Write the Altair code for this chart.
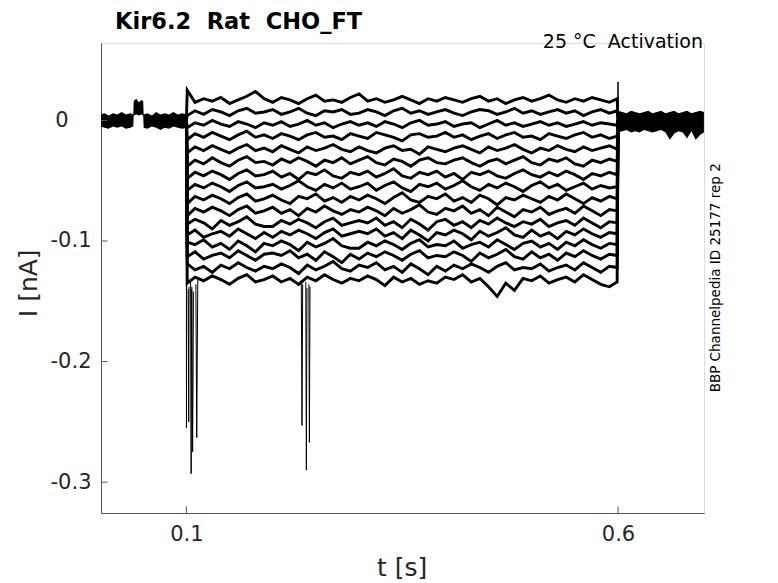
import altair as alt
import pandas as pd

FONT = "DejaVu Sans"

# ---- data (currents in pA, times in s) ----
STEP_T = [0.101, 0.11, 0.12, 0.13, 0.14, 0.15, 0.16, 0.17, 0.18, 0.19,
          0.20, 0.21, 0.22, 0.23, 0.24, 0.25, 0.26, 0.27, 0.28, 0.29,
          0.30, 0.31, 0.32, 0.33, 0.34, 0.35, 0.36, 0.37, 0.38, 0.39,
          0.40, 0.41, 0.42, 0.43, 0.44, 0.45, 0.46, 0.47, 0.48, 0.49,
          0.50, 0.51, 0.52, 0.53, 0.54, 0.55, 0.56, 0.57, 0.58, 0.59,
          0.599]

TRACE_01 = [25, 15, 18, 16, 19, 14, 17, 20, 24, 18,
            15, 19, 17, 14, 18, 21, 16, 17, 15, 19,
            22, 16, 18, 15, 17, 20, 17, 14, 18, 16,
            19, 17, 15, 18, 20, 16, 18, 14, 17, 19,
            16, 18, 21, 17, 15, 18, 16, 19, 17, 15,
            18]
TRACE_02 = [4, 8, 5, 9, 7, 4, 8, 10, 6, 7,
            9, 5, 7, 10, 6, 4, 8, 7, 9, 5,
            6, 9, 7, 4, 8, 10, 6, 8, 5, 7,
            9, 6, 4, 7, 9, 8, 5, 7, 10, 6,
            8, 5, 7, 9, 6, 8, 4, 7, 9, 6,
            8]
TRACE_03 = [-6, -2, -4, 0, -3, -5, -1, -3, -6, -2,
            -4, -1, -5, -3, 0, -4, -2, -6, -3, -1,
            -4, -2, -5, -1, -3, -6, -2, 0, -4, -3,
            -1, -5, -3, -2, -6, -3, 0, -4, -2, -5,
            -3, -1, -4, -2, -5, -3, -1, -4, -2, -3,
            -4]
TRACE_04 = [-16, -11, -14, -10, -13, -16, -12, -9, -14, -12,
            -15, -11, -13, -16, -12, -10, -14, -13, -16, -11,
            -13, -15, -10, -12, -14, -17, -12, -11, -14, -13,
            -10, -14, -12, -16, -13, -11, -15, -12, -10, -14,
            -13, -16, -11, -13, -15, -12, -10, -14, -12, -15,
            -13]
TRACE_05 = [-27, -22, -25, -21, -24, -27, -23, -20, -25, -23,
            -26, -21, -24, -27, -22, -25, -23, -20, -24, -26,
            -22, -25, -27, -23, -21, -25, -24, -28, -22, -24,
            -26, -23, -21, -24, -27, -22, -25, -23, -20, -24,
            -27, -23, -25, -21, -24, -26, -22, -25, -23, -21,
            -24]
TRACE_06 = [-38, -33, -36, -31, -35, -38, -33, -30, -35, -34,
            -37, -32, -35, -31, -34, -38, -33, -35, -31, -36,
            -33, -30, -35, -37, -32, -34, -38, -33, -31, -35,
            -36, -33, -31, -35, -38, -34, -32, -36, -33, -30,
            -35, -37, -32, -34, -31, -36, -38, -33, -35, -32,
            -34]
TRACE_07 = [-48, -43, -46, -42, -45, -49, -44, -41, -46, -45,
            -42, -47, -44, -49, -43, -45, -41, -46, -48, -43,
            -45, -42, -47, -44, -40, -46, -48, -43, -45, -42,
            -47, -44, -49, -43, -45, -42, -46, -48, -44, -41,
            -45, -47, -43, -46, -42, -45, -49, -44, -46, -43,
            -45]
TRACE_08 = [-58, -53, -56, -52, -55, -59, -54, -51, -56, -55,
            -53, -57, -54, -50, -55, -58, -53, -56, -52, -57,
            -55, -52, -58, -54, -51, -56, -59, -53, -55, -52,
            -57, -54, -50, -55, -58, -53, -56, -52, -55, -59,
            -54, -51, -56, -53, -58, -55, -52, -57, -54, -56,
            -55]
TRACE_09 = [-69, -63, -66, -62, -65, -69, -64, -61, -67, -65,
            -62, -66, -69, -63, -65, -61, -67, -64, -68, -63,
            -66, -62, -65, -69, -64, -60, -66, -68, -63, -65,
            -61, -67, -64, -68, -62, -65, -70, -64, -66, -62,
            -65, -68, -63, -66, -61, -65, -69, -64, -67, -63,
            -65]
TRACE_10 = [-79, -73, -76, -72, -75, -79, -74, -71, -77, -75,
            -72, -77, -74, -79, -73, -76, -71, -75, -78, -74,
            -76, -72, -75, -79, -73, -77, -74, -70, -76, -78,
            -73, -75, -71, -77, -74, -79, -72, -76, -80, -74,
            -76, -72, -78, -75, -73, -77, -71, -75, -79, -74,
            -75]
TRACE_11 = [-86, -82, -85, -90, -83, -87, -84, -80, -86, -88,
            -88, -83, -86, -82, -85, -89, -84, -81, -87, -85,
            -83, -85, -81, -87, -84, -89, -82, -86, -91, -84,
            -82, -87, -84, -89, -83, -86, -81, -85, -88, -84,
            -86, -82, -88, -85, -83, -87, -81, -85, -89, -84,
            -85]
TRACE_12 = [-95, -91, -97, -94, -92, -96, -90, -94, -98, -93,
            -97, -92, -95, -91, -94, -98, -93, -90, -96, -94,
            -92, -94, -90, -96, -93, -98, -91, -95, -100, -93,
            -95, -91, -94, -99, -92, -96, -93, -89, -95, -97,
            -91, -96, -93, -98, -92, -95, -90, -94, -97, -93,
            -94]
TRACE_13 = [-101, -103, -99, -105, -102, -107, -100, -104, -109, -102,
            -104, -100, -103, -108, -101, -105, -102, -98, -104, -106,
            -106, -101, -104, -100, -103, -107, -102, -99, -105, -103,
            -104, -100, -106, -103, -101, -105, -99, -103, -107, -102,
            -100, -105, -102, -107, -101, -104, -99, -103, -106, -102,
            -103]
TRACE_14 = [-113, -109, -115, -112, -110, -114, -108, -112, -116, -111,
            -110, -112, -108, -114, -111, -116, -109, -113, -118, -111,
            -115, -110, -113, -109, -112, -116, -111, -108, -114, -112,
            -113, -109, -112, -117, -110, -114, -111, -107, -113, -115,
            -109, -114, -111, -116, -110, -113, -108, -112, -115, -111,
            -112]
TRACE_15 = [-119, -124, -121, -126, -120, -123, -118, -122, -125, -121,
            -123, -119, -122, -127, -120, -124, -121, -117, -123, -125,
            -120, -122, -118, -124, -121, -126, -119, -123, -128, -121,
            -125, -120, -123, -119, -122, -126, -121, -118, -124, -122,
            -123, -119, -125, -122, -120, -124, -118, -122, -126, -121,
            -122]
TRACE_16 = [-135, -130, -133, -129, -132, -136, -131, -128, -134, -132,
            -129, -134, -131, -136, -130, -133, -128, -132, -135, -131,
            -133, -129, -132, -137, -130, -134, -131, -136, -133, -135,
            -130, -132, -128, -134, -131, -138, -146, -135, -141, -131,
            -133, -129, -135, -132, -130, -134, -128, -132, -136, -138,
            -134]

TRACES = [TRACE_01, TRACE_02, TRACE_03, TRACE_04, TRACE_05, TRACE_06,
          TRACE_07, TRACE_08, TRACE_09, TRACE_10, TRACE_11, TRACE_12,
          TRACE_13, TRACE_14, TRACE_15, TRACE_16]

# holding-current band before and after the step (upper / lower edge, pA)
PRE_T = [0.0012, 0.005, 0.010, 0.015, 0.020, 0.025, 0.030, 0.035, 0.0385,
         0.0390, 0.042, 0.045, 0.048, 0.0500, 0.0505, 0.055, 0.060, 0.065,
         0.070, 0.075, 0.080, 0.085, 0.090, 0.095, 0.100]
PRE_HI = [5, 6, 4, 6, 5, 7, 5, 6, 5, 16, 18, 15, 17, 16, 5, 6, 4, 7, 5,
          6, 5, 7, 5, 6, 5]
PRE_LO = [-5, -6, -7, -5, -6, -5, -7, -6, -5, 4, 5, 4, 5, 4, -6, -7, -5,
          -6, -8, -6, -7, -5, -6, -7, -6]
POST_T = [0.600, 0.605, 0.610, 0.615, 0.620, 0.625, 0.630, 0.635, 0.640,
          0.645, 0.650, 0.655, 0.660, 0.665, 0.670, 0.675, 0.680, 0.685,
          0.690, 0.695, 0.6995]
POST_HI = [8, 7, 6, 8, 7, 6, 7, 8, 6, 7, 8, 6, 7, 8, 6, 7, 8, 6, 7, 8, 7]
POST_LO = [-10, -9, -8, -10, -9, -10, -8, -9, -10, -9, -8, -10, -16, -11,
           -9, -10, -15, -9, -16, -12, -10]

# fast transients (thin spikes)
SPIKE_T = [[0.1000, 0.1001, 0.1004],
           [0.1022, 0.1027, 0.1031],
           [0.1049, 0.1055, 0.1061],
           [0.1064, 0.1072, 0.1082],
           [0.1110, 0.1120, 0.1132],
           [0.2331, 0.2339, 0.2347],
           [0.2383, 0.2390, 0.2397],
           [0.2419, 0.2425, 0.2432],
           [0.5995, 0.6000, 0.6006]]
SPIKE_PA = [[0, -255, -130],
            [-140, -250, -138],
            [-132, -293, -140],
            [-138, -275, -142],
            [-136, -263, -132],
            [-133, -253, -136],
            [-134, -290, -139],
            [-136, -267, -138],
            [8, 32, 2]]

XTICKS = [0.1, 0.6]
YTICKS = [0.0, -0.1, -0.2, -0.3]
X_DOMAIN = [0.0011, 0.6996]
Y_DOMAIN = [-0.3256, 0.0642]

TITLE = "Kir6.2\u00a0 Rat\u00a0 CHO_FT"
NOTE = "25 \u00b0C\u00a0 Activation"
SIDE = "BBP Channelpedia ID 25177 rep 2"

# ---- tables ----
rows = []
for n, vals in enumerate(TRACES):
    pts = [(0.1, 0)] + list(zip(STEP_T, vals)) + [(0.6, 0)]
    for k, (t, v) in enumerate(pts):
        rows.append({"trace": n, "k": k, "t": t, "i": v / 1000.0})
traces_df = pd.DataFrame(rows)

srows = []
for n, (ts, vs) in enumerate(zip(SPIKE_T, SPIKE_PA)):
    for k, (t, v) in enumerate(zip(ts, vs)):
        srows.append({"spike": n, "k": k, "t": t, "i": v / 1000.0})
spikes_df = pd.DataFrame(srows)

pre_df = pd.DataFrame({"t": PRE_T, "hi": [v / 1000.0 for v in PRE_HI],
                       "lo": [v / 1000.0 for v in PRE_LO]})
post_df = pd.DataFrame({"t": POST_T, "hi": [v / 1000.0 for v in POST_HI],
                        "lo": [v / 1000.0 for v in POST_LO]})

W, H = 603, 470
AXC = "#555555"
TXC = "#262626"

xscale = alt.Scale(domain=X_DOMAIN, nice=False, zero=False)
yscale = alt.Scale(domain=Y_DOMAIN, nice=False, zero=False)

ylab = "datum.value == 0 ? '0' : '-' + format(abs(datum.value), '.1f')"

xaxis = alt.Axis(values=XTICKS, format=".1f", grid=False, ticks=False,
                 domainColor=AXC, domainWidth=1, labelFont=FONT,
                 labelFontSize=21, labelColor=TXC, labelPadding=10,
                 title="t [s]", titleFont=FONT, titleFontSize=25,
                 titleFontWeight="normal", titleColor=TXC, titleX=300.7,
                 titleY=62.8, titleAlign="center", titleBaseline="alphabetic")
yaxis = alt.Axis(values=YTICKS, labelExpr=ylab, grid=False, ticks=False,
                 domainColor=AXC, domainWidth=1, labelFont=FONT,
                 labelFontSize=21, labelColor=TXC,
                 labelPadding={"condition": {"test": "datum.value == 0", "value": 33},
                               "value": 10},
                 title="I [nA]", titleFont=FONT, titleFontSize=25,
                 titleFontWeight="normal", titleColor=TXC, titleX=-64.6,
                 titleY=239.8, titleAngle=270, titleAlign="center",
                 titleBaseline="alphabetic")

base_pre = alt.Chart(pre_df).mark_area(color="black").encode(
    x=alt.X("t:Q", scale=xscale, axis=xaxis),
    y=alt.Y("hi:Q", scale=yscale, axis=yaxis),
    y2="lo:Q",
)
base_post = alt.Chart(post_df).mark_area(color="black").encode(
    x=alt.X("t:Q", scale=xscale), y=alt.Y("hi:Q", scale=yscale), y2="lo:Q"
)
lines = alt.Chart(traces_df).mark_line(color="black", strokeWidth=2.9,
                                       strokeJoin="miter").encode(
    x=alt.X("t:Q", scale=xscale),
    y=alt.Y("i:Q", scale=yscale),
    detail="trace:N",
    order="k:Q",
)
spikes = alt.Chart(spikes_df).mark_line(color="black", strokeWidth=1).encode(
    x=alt.X("t:Q", scale=xscale),
    y=alt.Y("i:Q", scale=yscale),
    detail="spike:N",
    order="k:Q",
)

xt = alt.Chart(pd.DataFrame({"v": XTICKS})).mark_rule(color=AXC, strokeWidth=1).encode(
    x=alt.X("v:Q", scale=xscale), y=alt.value(H), y2=alt.value(H - 6.5)
)
yt = alt.Chart(pd.DataFrame({"v": YTICKS})).mark_rule(color=AXC, strokeWidth=1).encode(
    y=alt.Y("v:Q", scale=yscale), x=alt.value(0), x2=alt.value(6.5)
)

title = alt.Chart(pd.DataFrame({"s": [TITLE]})).mark_text(
    font=FONT, fontSize=22.5, fontWeight="bold", align="left",
    baseline="alphabetic", color="black"
).encode(x=alt.value(14), y=alt.value(-13.8), text="s:N")
note = alt.Chart(pd.DataFrame({"s": [NOTE]})).mark_text(
    font=FONT, fontSize=19, align="right", baseline="alphabetic", color="black"
).encode(x=alt.value(602), y=alt.value(5), text="s:N")
side = alt.Chart(pd.DataFrame({"s": [SIDE]})).mark_text(
    font=FONT, fontSize=13.5, align="center", baseline="middle", angle=270,
    color="black"
).encode(x=alt.value(615.2), y=alt.value(234.8), text="s:N")

chart = alt.layer(base_pre, base_post, lines, spikes, xt, yt, title, note, side).properties(
    width=W, height=H,
    autosize=alt.AutoSizeParams(type="none"),
    padding={"left": 93, "top": 35, "right": 25, "bottom": 70},
).configure_view(strokeWidth=0).configure(background="white")

chart.save("out.html", embed_options={"renderer": "svg", "actions": False})
